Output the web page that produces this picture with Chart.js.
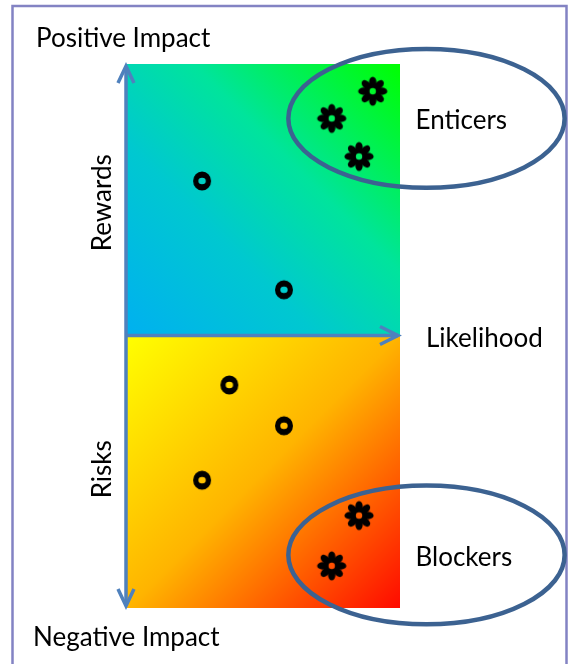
<!DOCTYPE html>
<html>
<head>
<meta charset="utf-8">
<script src="https://cdn.jsdelivr.net/npm/chart.js@4/dist/chart.umd.min.js"></script>
<style>
  html, body { margin: 0; padding: 0; background: #fff; }
  #wrap { width: 568px; height: 664px; }
</style>
</head>
<body>
<div id="wrap"><canvas id="matrix" width="568" height="664"></canvas></div>
<script>
// Ordinary factors: likelihood (0..10) and impact (-10..10)
const factorLikelihood = [2.75, 5.75, 3.75, 5.75, 2.75];
const factorImpact     = [5.7, 1.7, -1.8, -3.3, -5.3];

// Key factors (marked with a flower)
const keyLikelihood = [9.0, 7.5, 8.5, 8.5, 7.5];
const keyImpact     = [9.0, 8.0, 6.6, -6.6, -8.45];

// Axis ranges
const likelihoodRange = [0, 10];
const impactRange = [-10, 10];

// Text labels
const topLabel = 'Positive Impact';
const bottomLabel = 'Negative Impact';
const xAxisLabel = 'Likelihood';
const upperHalfLabel = 'Rewards';
const lowerHalfLabel = 'Risks';
const groupLabels = ['Enticers', 'Blockers'];
// Groups circled on the chart, in data units: [centre likelihood, centre impact]
const groupCentres = [[10.97, 8.0], [10.97, -8.05]];

const FONT = '26px Lato, "Open Sans", sans-serif';
const AXIS_BLUE = '#4f81bd';
const RING_BLUE = '#3c6291';

// Marker images
function makeRing() {
  const c = document.createElement('canvas');
  c.width = 24; c.height = 24;
  const g = c.getContext('2d');
  g.fillStyle = '#000';
  g.beginPath();
  g.ellipse(12, 12, 9, 9.6, 0, 0, Math.PI * 2);
  g.moveTo(12 + 3.7, 12);
  g.ellipse(12, 12, 3.7, 3.2, 0, 0, Math.PI * 2);
  g.fill('evenodd');
  return c;
}
function makeFlower() {
  const c = document.createElement('canvas');
  c.width = 32; c.height = 32;
  const g = c.getContext('2d');
  g.fillStyle = '#000';
  g.beginPath();
  g.arc(16, 16, 8.6, 0, Math.PI * 2);
  g.fill();
  for (let i = 0; i < 8; i++) {
    const a = i * Math.PI / 4 - Math.PI / 2;
    g.beginPath();
    g.ellipse(16 + 9.2 * Math.cos(a), 16 + 9.2 * Math.sin(a), 5.4, 3.7, a, 0, Math.PI * 2);
    g.fill();
  }
  g.globalCompositeOperation = 'destination-out';
  g.beginPath();
  g.arc(16, 16, 3.2, 0, Math.PI * 2);
  g.fill();
  return c;
}

function chevronLine(ctx, pts) {
  ctx.beginPath();
  ctx.moveTo(pts[0][0], pts[0][1]);
  for (let i = 1; i < pts.length; i++) ctx.lineTo(pts[i][0], pts[i][1]);
  ctx.stroke();
}

const matrixPlugin = {
  id: 'matrix',
  beforeDraw(chart) {
    const ctx = chart.ctx;
    ctx.save();
    ctx.fillStyle = '#fff';
    ctx.fillRect(0, 0, chart.width, chart.height);
    // outer frame
    ctx.strokeStyle = '#8383c3';
    ctx.lineWidth = 2.5;
    ctx.strokeRect(12.5, 6, 554, 680);
    ctx.restore();
  },
  beforeDatasetsDraw(chart) {
    const { ctx, chartArea: a, scales: { x, y } } = chart;
    const y0 = y.getPixelForValue(0);
    ctx.save();
    // rewards half
    let g = ctx.createLinearGradient(a.left, y0, a.right, a.top);
    g.addColorStop(0, '#00b0f0');
    g.addColorStop(0.35, '#00c8d0');
    g.addColorStop(0.62, '#00e49c');
    g.addColorStop(1, '#00ff00');
    ctx.fillStyle = g;
    ctx.fillRect(a.left, a.top, a.right - a.left, y0 - a.top);
    // risks half
    g = ctx.createLinearGradient(a.left, y0, a.right, a.bottom);
    g.addColorStop(0, '#ffff00');
    g.addColorStop(0.5, '#ffb400');
    g.addColorStop(1, '#ff0a00');
    ctx.fillStyle = g;
    ctx.fillRect(a.left, y0, a.right - a.left, a.bottom - y0);

    // axes with arrow heads
    const ax = a.left - 1;
    ctx.strokeStyle = AXIS_BLUE;
    ctx.lineWidth = 3.5;
    ctx.lineJoin = 'miter';
    ctx.lineCap = 'butt';
    chevronLine(ctx, [[ax, a.top + 2], [ax, a.bottom - 2]]);
    chevronLine(ctx, [[ax - 8, a.top + 19], [ax, a.top + 2], [ax + 8, a.top + 19]]);
    chevronLine(ctx, [[ax - 8, a.bottom - 19], [ax, a.bottom - 2], [ax + 8, a.bottom - 19]]);
    const hy = y0 - 0.5;
    chevronLine(ctx, [[ax, hy], [a.right - 2, hy]]);
    chevronLine(ctx, [[a.right - 20, hy - 9], [a.right - 2, hy], [a.right - 20, hy + 9]]);
    ctx.restore();
  },
  afterDatasetsDraw(chart) {
    const { ctx, chartArea: a, scales: { x, y } } = chart;
    ctx.save();
    // group ellipses
    ctx.strokeStyle = RING_BLUE;
    ctx.lineWidth = 4.5;
    const rx = x.getPixelForValue(5.06) - x.getPixelForValue(0);
    const ry = y.getPixelForValue(0) - y.getPixelForValue(2.55);
    groupCentres.forEach(([cx, cy], i) => {
      const px = x.getPixelForValue(cx);
      const py = y.getPixelForValue(cy);
      ctx.beginPath();
      ctx.ellipse(px, py, rx, ry, 0, 0, Math.PI * 2);
      ctx.stroke();
      ctx.fillStyle = '#000';
      ctx.font = FONT;
      ctx.textAlign = 'left';
      ctx.textBaseline = 'alphabetic';
      ctx.fillText(groupLabels[i], px - 11, py + 11);
    });

    ctx.fillStyle = '#000';
    ctx.font = FONT;
    ctx.textAlign = 'left';
    ctx.textBaseline = 'alphabetic';
    ctx.fillText(topLabel, 36, a.top - 17);
    ctx.fillText(bottomLabel, 33, a.bottom + 38);
    ctx.fillText(xAxisLabel, a.right + 26, y.getPixelForValue(0) + 11);

    // rotated half labels
    const drawRotated = (text, cy) => {
      ctx.save();
      ctx.translate(a.left - 16, cy);
      ctx.rotate(-Math.PI / 2);
      ctx.textAlign = 'center';
      ctx.fillText(text, 0, 0);
      ctx.restore();
    };
    drawRotated(upperHalfLabel, y.getPixelForValue(4.9));
    drawRotated(lowerHalfLabel, y.getPixelForValue(-4.9));
    ctx.restore();
  }
};

const ring = makeRing();
const flower = makeFlower();

new Chart(document.getElementById('matrix'), {
  type: 'scatter',
  data: {
    datasets: [
      {
        label: 'Factors',
        data: factorLikelihood.map((v, i) => ({ x: v, y: factorImpact[i] })),
        pointStyle: ring,
        showLine: false
      },
      {
        label: 'Key factors',
        data: keyLikelihood.map((v, i) => ({ x: v, y: keyImpact[i] })),
        pointStyle: flower,
        showLine: false
      }
    ]
  },
  options: {
    responsive: false,
    animation: false,
    events: [],
    layout: { padding: { left: 127, right: 168, top: 64, bottom: 56 } },
    scales: {
      x: { type: 'linear', min: likelihoodRange[0], max: likelihoodRange[1], display: false },
      y: { type: 'linear', min: impactRange[0], max: impactRange[1], display: false }
    },
    plugins: { legend: { display: false }, tooltip: { enabled: false } }
  },
  plugins: [matrixPlugin]
});
</script>
</body>
</html>
